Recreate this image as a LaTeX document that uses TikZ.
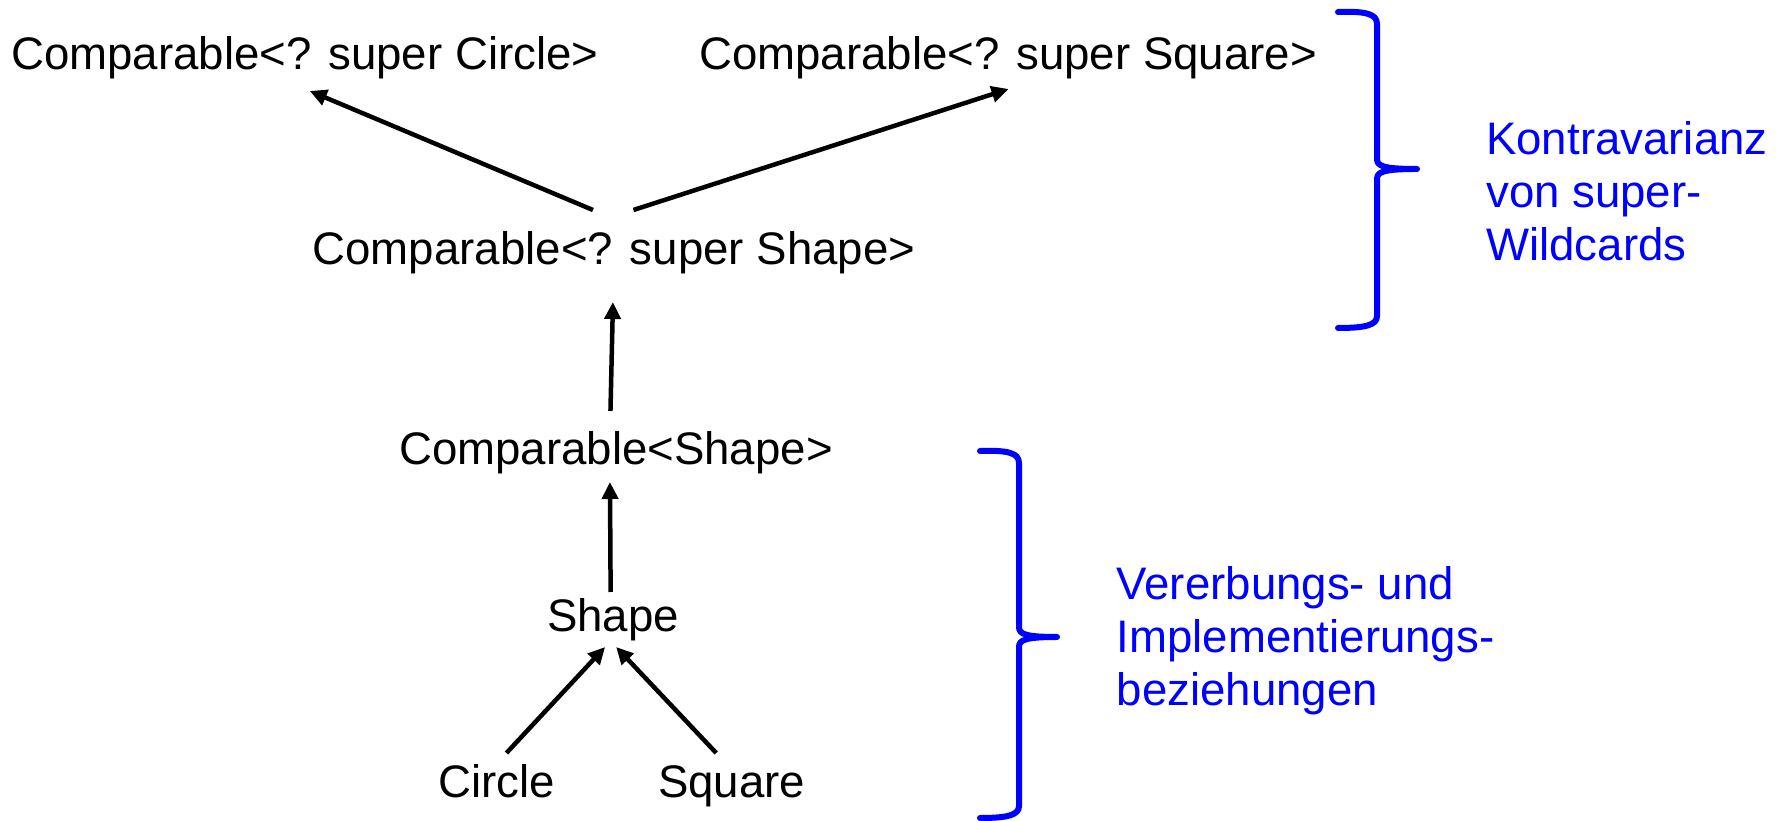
\documentclass[tikz,border=0pt]{standalone}
\usepackage{fontspec}
\setmainfont{Liberation Sans}
\usetikzlibrary{arrows.meta}
\definecolor{braceblue}{RGB}{0,0,255}
\begin{document}
\begin{tikzpicture}[x=1pt,y=1pt,
  lbl/.style={inner sep=0pt, anchor=base west, font=\fontsize{45.6pt}{53pt}\selectfont},
  note/.style={lbl, text=braceblue, align=left},
  arr/.style={line width=4.5pt, -{Triangle[length=17pt,width=16pt]}},
  brace/.style={draw=braceblue, line width=6pt, line cap=round, line join=round}]
\useasboundingbox (0,0) rectangle (1782,821);
% nodes
\node[lbl] (cc) at (11,751) {Comparable<? super Circle>};
\node[lbl] (cq) at (699,751) {Comparable<? super Square>};
\node[lbl] (cs) at (312.5,556) {Comparable<? super Shape>};
\node[lbl] (c) at (399,356) {Comparable<Shape>};
\node[lbl] (s) at (547,189) {Shape};
\node[lbl] (ci) at (438,23) {Circle};
\node[lbl] (sq) at (658,23) {Square};
\node[note] (k1) at (1486,560) {Kontravarianz\\von super-\\Wildcards};
\node[note] (k2) at (1116.5,115) {Vererbungs- und\\Implementierungs-\\beziehungen};
% connectors
\draw[arr] ([shift={(-21,55)}]cs.base) -- ([shift={(5,-21)}]cc.base);
\draw[arr] ([shift={(19.5,55)}]cs.base) -- ([shift={(0.5,-19)}]cq.base);
\draw[arr] ([shift={(-5.5,54)}]c.base) -- ([shift={(-1,-37)}]cs.base);
\draw[arr] ([shift={(-2.5,40)}]s.base) -- ([shift={(-6,-17)}]c.base);
\draw[arr] ([shift={(10,45)}]ci.base) -- ([shift={(-8,-15)}]s.base);
\draw[arr] ([shift={(-15.5,45)}]sq.base) -- ([shift={(3,-15)}]s.base);
% braces
\draw[brace] (1338,809) .. controls (1366,810) and (1377,807) .. (1377,797) -- (1377,662)
  .. controls (1377,655) and (1383,652) .. (1417,652)
  .. controls (1383,652) and (1377,649) .. (1377,642) -- (1377,505)
  .. controls (1377,496) and (1366,493) .. (1338,493);
\draw[brace] (980,370) .. controls (1008,371) and (1019,368) .. (1019,358) -- (1019,194)
  .. controls (1019,187) and (1025,184) .. (1057,184)
  .. controls (1025,184) and (1019,181) .. (1019,174) -- (1019,15)
  .. controls (1019,6) and (1008,3) .. (980,3);
\end{tikzpicture}
\end{document}
